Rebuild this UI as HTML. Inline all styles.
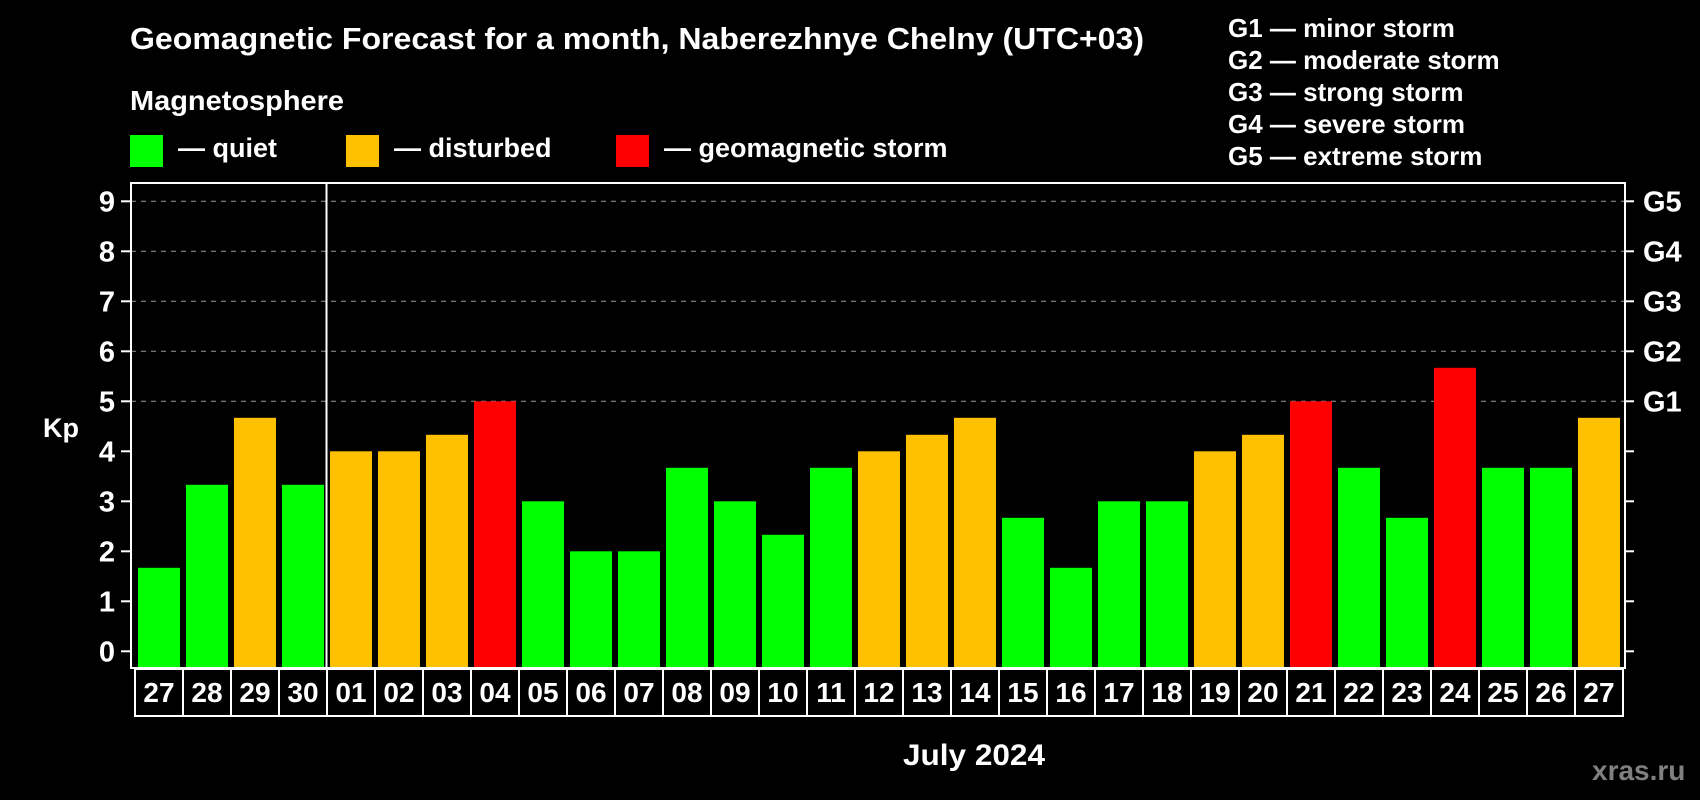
<!DOCTYPE html>
<html><head><meta charset="utf-8"><style>
html,body{margin:0;padding:0;background:#000;}
svg{display:block;font-family:"Liberation Sans",Arial,sans-serif;font-weight:bold;}
</style></head><body>
<svg id="chart" width="1700" height="800" viewBox="0 0 1700 800">
<rect width="1700" height="800" fill="#000"/>
<text x="130" y="49" font-size="31" fill="#fff" textLength="1014" lengthAdjust="spacingAndGlyphs">Geomagnetic Forecast for a month, Naberezhnye Chelny (UTC+03)</text>
<text x="130" y="110" font-size="28" fill="#fff" textLength="214" lengthAdjust="spacingAndGlyphs">Magnetosphere</text>
<g>
<rect x="130" y="135" width="33" height="32" fill="#00ff00"/>
<text x="178" y="157" font-size="27" fill="#fff">— quiet</text></g>
<g>
<rect x="346" y="135" width="33" height="32" fill="#ffc000"/>
<text x="394" y="157" font-size="27" fill="#fff">— disturbed</text></g>
<g>
<rect x="616" y="135" width="33" height="32" fill="#ff0000"/>
<text x="664" y="157" font-size="27" fill="#fff">— geomagnetic storm</text></g>
<g font-size="26" fill="#fff">
<text x="1228" y="37">G1 — minor storm</text>
<text x="1228" y="69">G2 — moderate storm</text>
<text x="1228" y="101">G3 — strong storm</text>
<text x="1228" y="133">G4 — severe storm</text>
<text x="1228" y="165">G5 — extreme storm</text>
</g>
<text x="43" y="437" font-size="27" fill="#fff">Kp</text>
<text x="903" y="765" font-size="30" fill="#fff" textLength="142" lengthAdjust="spacingAndGlyphs">July 2024</text>
<text x="1592" y="780" font-size="28" fill="#808080">xras.ru</text>
<g id="plot"></g>
</svg>
<script>
const days = ["27","28","29","30","01","02","03","04","05","06","07","08","09","10","11","12","13","14","15","16","17","18","19","20","21","22","23","24","25","26","27"];
const kpValues = [1.67,3.33,4.67,3.33,4,4,4.33,5,3,2,2,3.67,3,2.33,3.67,4,4.33,4.67,2.67,1.67,3,3,4,4.33,5,3.67,2.67,5.67,3.67,3.67,4.67];
const yTicks = [0,1,2,3,4,5,6,7,8,9];
const gLabels = ["G1","G2","G3","G4","G5"];
const gLevels = [5,6,7,8,9];
const monthStartIndex = 4;

const NS="http://www.w3.org/2000/svg";
const plot=document.getElementById('plot');
const L=131,R=1625,T=183,B=668;
const x0=138,pitch=48,bw=42;
function y(v){return 651.3-v*50;}
function xBar(i){return x0+i*pitch;}
function mk(tag,attrs,parent){const e=document.createElementNS(NS,tag);for(const k in attrs)e.setAttribute(k,attrs[k]);(parent||plot).appendChild(e);return e;}
function color(v){return v>=5?"#ff0000":(v>=4?"#ffc000":"#00ff00");}

gLevels.forEach(v=>{
  const g=mk('line',{x1:L,x2:R,y1:y(v),y2:y(v),stroke:"#999","stroke-width":1,"stroke-dasharray":"5,5"});
  
  
});
kpValues.forEach((v,i)=>{
  const r=mk('rect',{x:xBar(i),y:y(v),width:bw,height:B-y(v),fill:color(v)});
  
  
});
const box=mk('rect',{x:L,y:T,width:R-L,height:B-T,fill:"none",stroke:"#fff","stroke-width":2});


const dx=xBar(monthStartIndex)-3.5;
const div=mk('line',{x1:dx,x2:dx,y1:T,y2:B,stroke:"#fff","stroke-width":2});


yTicks.forEach(v=>{
  const t=mk('line',{x1:121,x2:L,y1:y(v),y2:y(v),stroke:"#fff","stroke-width":2});
  
  
  const t2=mk('line',{x1:R,x2:1634,y1:y(v),y2:y(v),stroke:"#fff","stroke-width":2});
  
  
  const lb=mk('text',{x:115,y:y(v)+10,"text-anchor":"end","font-size":29,fill:"#fff"});
  lb.textContent=v;
  
  
});
gLabels.forEach((g,i)=>{
  const lb=mk('text',{x:1643,y:y(gLevels[i])+10,"font-size":29,fill:"#fff"});
  lb.textContent=g;
  
  
});
const rowT=669,rowB=716;
const cl=xBar(0)-3,cr=xBar(days.length-1)+bw+3;
const row=mk('rect',{x:cl,y:rowT,width:cr-cl,height:rowB-rowT,fill:"none",stroke:"#fff","stroke-width":2});


days.forEach((d,i)=>{
  if(i>0){
    const s=mk('line',{x1:xBar(i)-3,x2:xBar(i)-3,y1:rowT,y2:rowB,stroke:"#fff","stroke-width":2});
    
    
  }
  const t=mk('text',{x:xBar(i)+bw/2,y:702,"text-anchor":"middle","font-size":28,fill:"#fff"});
  t.textContent=d;
  
  
});
</script>
</body></html>
